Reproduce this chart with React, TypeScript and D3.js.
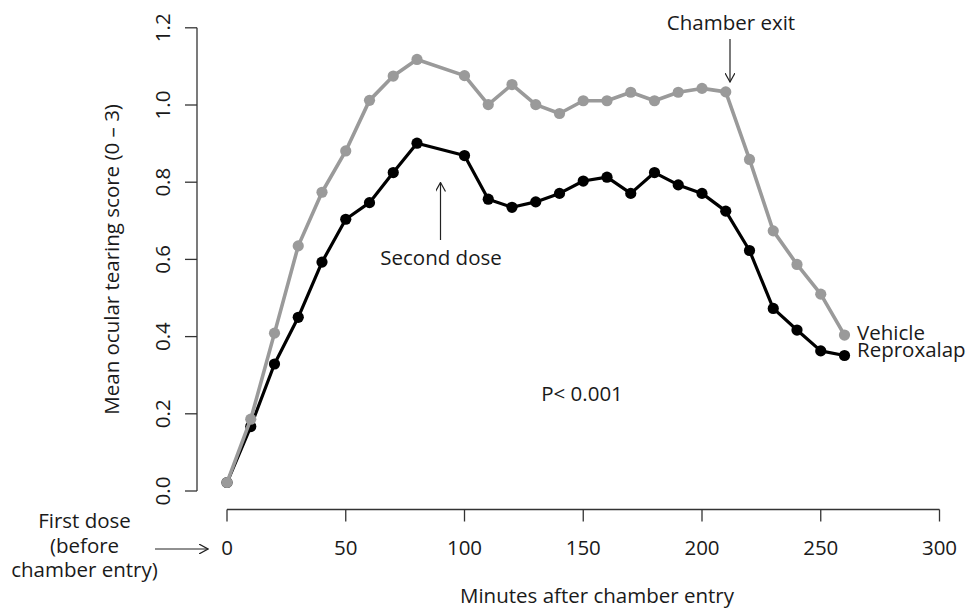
import React from "react";
import * as d3 from "d3";

const minutes = [0, 10, 20, 30, 40, 50, 60, 70, 80, 100, 110, 120, 130, 140, 150, 160, 170, 180, 190, 200, 210, 220, 230, 240, 250, 260];
const vehicle = [0.022, 0.186, 0.409, 0.635, 0.774, 0.881, 1.012, 1.075, 1.118, 1.076, 1.001, 1.053, 1.001, 0.978, 1.011, 1.011, 1.033, 1.011, 1.033, 1.043, 1.034, 0.859, 0.674, 0.587, 0.51, 0.404];
const reproxalap = [0.022, 0.167, 0.329, 0.45, 0.593, 0.704, 0.747, 0.825, 0.901, 0.869, 0.756, 0.735, 0.749, 0.771, 0.803, 0.813, 0.771, 0.825, 0.793, 0.771, 0.725, 0.623, 0.473, 0.417, 0.363, 0.351];
const xTicks = [0, 50, 100, 150, 200, 250, 300];
const yTicks = [0, 0.2, 0.4, 0.6, 0.8, 1.0, 1.2];

const W = 968;
const H = 608;
const FONT = "'Open Sans', 'Noto Sans', sans-serif";

export default function App() {
  const x = d3.scaleLinear().domain([0, 300]).range([227, 939.5]);
  const y = d3.scaleLinear().domain([0, 1.2]).range([491, 27.8]);
  const line = d3
    .line<number>()
    .x((_, i) => x(minutes[i]))
    .y((d) => y(d));

  const axisColor = "#333";
  const textColor = "#1a1a1a";
  const fs = 20.5;

  const series = [
    { name: "Reproxalap", values: reproxalap, color: "#000000", width: 3.2 },
    { name: "Vehicle", values: vehicle, color: "#9a9a9a", width: 3.6 },
  ];

  const yAxisX = 197;
  const xAxisY = 509.5;
  const exitX = 730;
  const doseX = 440.5;
  const lastV = vehicle[vehicle.length - 1];
  const lastR = reproxalap[reproxalap.length - 1];

  return (
    <svg
      width={W}
      height={H}
      style={{ position: "absolute", left: 0, top: 0, background: "#fff" }}
      fontFamily={FONT}
    >
      <defs>
        <marker id="open" viewBox="0 0 10 10" refX="9" refY="5" markerWidth="10" markerHeight="10" markerUnits="userSpaceOnUse" orient="auto">
          <path d="M0,0 L9,5 L0,10" fill="none" stroke="#222" strokeWidth={1.2} />
        </marker>
      </defs>

      {/* Y axis */}
      <line x1={yAxisX} x2={yAxisX} y1={y(0)} y2={y(1.2)} stroke={axisColor} strokeWidth={1.3} />
      {yTicks.map((t) => (
        <g key={"y" + t}>
          <line x1={yAxisX - 12} x2={yAxisX} y1={y(t)} y2={y(t)} stroke={axisColor} strokeWidth={1.3} />
          <text
            transform={`translate(${170},${y(t)}) rotate(-90)`}
            textAnchor="middle"
            fontSize={fs}
            fill={textColor}
          >
            {t.toFixed(1)}
          </text>
        </g>
      ))}
      <text
        transform={`translate(${119},${(y(0) + y(1.2)) / 2}) rotate(-90)`}
        textAnchor="middle"
        fontSize={fs}
        fill={textColor}
      >
        Mean ocular tearing score (0 – 3)
      </text>

      {/* X axis */}
      <line x1={x(0)} x2={x(300)} y1={xAxisY} y2={xAxisY} stroke={axisColor} strokeWidth={1.3} />
      {xTicks.map((t) => (
        <g key={"x" + t}>
          <line x1={x(t)} x2={x(t)} y1={xAxisY} y2={xAxisY + 12} stroke={axisColor} strokeWidth={1.3} />
          <text x={x(t)} y={555} textAnchor="middle" fontSize={fs} fill={textColor}>
            {t}
          </text>
        </g>
      ))}
      <text x={597} y={603} textAnchor="middle" fontSize={fs} fill={textColor}>
        Minutes after chamber entry
      </text>

      {/* First dose annotation */}
      <text x={84.5} y={528} textAnchor="middle" fontSize={fs} fill={textColor}>First dose</text>
      <text x={84.5} y={552.5} textAnchor="middle" fontSize={fs} fill={textColor}>(before</text>
      <text x={84.5} y={577} textAnchor="middle" fontSize={fs} fill={textColor}>chamber entry)</text>
      <line x1={155} x2={208} y1={549} y2={549} stroke="#222" strokeWidth={1.2} markerEnd="url(#open)" />

      {/* Series */}
      {series.map((s) => (
        <g key={s.name}>
          <path d={line(s.values) || ""} fill="none" stroke={s.color} strokeWidth={s.width} strokeLinejoin="round" />
          {s.values.map((v, i) => (
            <circle key={i} cx={x(minutes[i])} cy={y(v)} r={5.6} fill={s.color} />
          ))}
        </g>
      ))}

      {/* Series labels */}
      <text x={857} y={y(lastV) + 5} fontSize={fs} fill={textColor}>Vehicle</text>
      <text x={857} y={y(lastR) + 1.5} fontSize={fs} fill={textColor}>Reproxalap</text>

      {/* Chamber exit */}
      <text x={731} y={30} textAnchor="middle" fontSize={fs} fill={textColor}>Chamber exit</text>
      <line x1={exitX} x2={exitX} y1={39} y2={82} stroke="#222" strokeWidth={1.2} markerEnd="url(#open)" />

      {/* Second dose */}
      <text x={441} y={265} textAnchor="middle" fontSize={fs} fill={textColor}>Second dose</text>
      <line x1={doseX} x2={doseX} y1={240} y2={182.5} stroke="#222" strokeWidth={1.2} markerEnd="url(#open)" />

      {/* P-value */}
      <text x={582} y={401} textAnchor="middle" fontSize={fs} fill={textColor}>P&lt; 0.001</text>
    </svg>
  );
}
